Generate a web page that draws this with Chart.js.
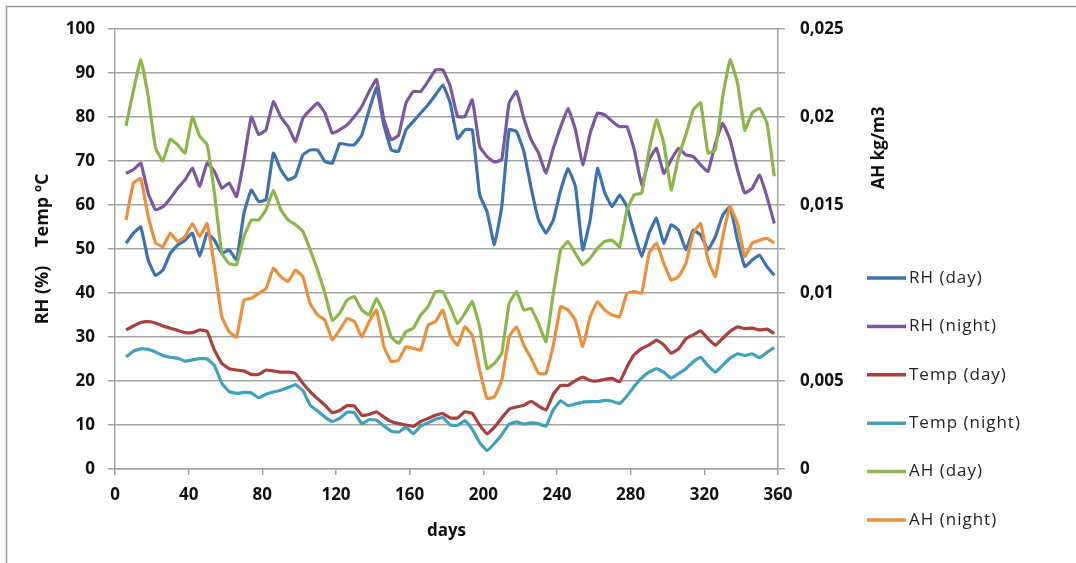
<!DOCTYPE html>
<html>
<head>
<meta charset="utf-8">
<title>RH, Temp and AH over the year</title>
<script src="https://cdn.jsdelivr.net/npm/chart.js@4/dist/chart.umd.min.js"></script>
<style>
  html, body { margin: 0; padding: 0; background: #fff; }
  canvas { display: block; }
</style>
</head>
<body>
<canvas id="climateChart" width="1076" height="563"></canvas>
<script>
// day of year for each sample
const days = [6, 10, 14, 18, 22, 26, 30, 34, 38, 42, 46, 50, 54, 58, 62, 66, 70, 74, 78, 82, 86, 90,
    94, 98, 102, 106, 110, 114, 118, 122, 126, 130, 134, 138, 142, 146, 150, 154, 158, 162, 166, 170, 174, 178,
    182, 186, 190, 194, 198, 202, 206, 210, 214, 218, 222, 226, 230, 234, 238, 242, 246, 250, 254, 258, 262, 266, 270,
    274, 278, 282, 286, 290, 294, 298, 302, 306, 310, 314, 318, 322, 326, 330, 334, 338, 342, 346, 350, 354, 358];

// RH in %
const rhDay = [51.3, 53.6, 55, 47.5, 44, 45.2, 49, 50.9, 52, 53.6, 48.3, 53.6, 52, 49, 49.8, 47.5, 58.1, 63.4, 60.8, 61.2, 71.8, 68,
    65.7, 66.5, 71.4, 72.5, 72.5, 69.9, 69.5, 74, 73.7, 73.7, 75.9, 81.6, 86.6, 78.2, 72.5, 72.2, 77.1, 79, 80.9, 82.8, 85, 87.3,
    83.2, 75.1, 77.1, 77.1, 62.3, 58.5, 51, 59.6, 77.1, 76.7, 72.2, 63.8, 56.6, 53.6, 56.6, 63.4, 68.3, 64.2, 49.8, 56.6, 68.3, 62.7, 59.6,
    62.3, 59.6, 53.6, 48.3, 53.6, 57, 51.3, 55.5, 54.3, 49.8, 54.3, 53.2, 49.8, 52.8, 57.7, 59.6, 52, 46, 47.5, 48.6, 46, 44];
const rhNight = [67.2, 68, 69.5, 62.7, 58.9, 59.6, 61.5, 63.8, 65.7, 68.4, 64.2, 69.5, 67.6, 63.8, 65, 61.9, 70.2, 80, 76, 77.1, 83.5, 80,
    77.8, 74.4, 79.7, 81.6, 83.2, 80.9, 76.3, 77.1, 78.2, 80.1, 82.4, 85.8, 88.5, 79.4, 74.8, 75.9, 83.2, 85.8, 85.8, 88.1, 90.7, 90.7,
    87, 80.1, 80.1, 83.9, 73.3, 71, 69.8, 70.3, 83.2, 85.8, 79.7, 74.8, 71.8, 67.2, 72.9, 77.8, 82, 77.1, 69.1, 76.3, 80.9, 80.5, 79,
    77.8, 77.8, 72.5, 64.6, 70.3, 72.9, 67.2, 70.3, 72.9, 71.4, 71, 69.1, 67.6, 74, 78.6, 74.8, 68, 62.7, 63.8, 66.8, 61.9, 55.8];

// temperature in ºC
const tempDay = [31.6, 32.5, 33.3, 33.5, 33.2, 32.5, 32, 31.5, 31, 31, 31.6, 31.3, 27, 24, 22.8, 22.5, 22.3, 21.5, 21.5, 22.5, 22.3, 22,
    22, 21.7, 19.5, 17.6, 16, 14.5, 12.8, 13.3, 14.4, 14.3, 12.2, 12.4, 13, 11.8, 10.8, 10.3, 10, 9.7, 10.8, 11.5, 12.2, 12.6,
    11.6, 11.6, 13, 12.6, 10, 8, 9.5, 11.6, 13.6, 14.1, 14.5, 15.4, 14.3, 13.4, 17, 19, 19, 20.1, 20.9, 20.1, 20, 20.4, 20.6,
    19.8, 23.2, 26, 27.4, 28.2, 29.3, 28.2, 26.3, 27.3, 29.6, 30.5, 31.4, 29.6, 28.1, 29.7, 31.3, 32.3, 31.9, 32, 31.6, 31.8, 30.8];
const tempNight = [25.5, 26.8, 27.3, 27.2, 26.6, 25.8, 25.4, 25.2, 24.5, 24.8, 25.1, 25, 23.5, 19.5, 17.6, 17.2, 17.4, 17.3, 16.2, 17, 17.5, 17.9,
    18.5, 19.2, 17.8, 14.5, 13.2, 11.8, 10.8, 11.5, 12.9, 12.8, 10.3, 11.2, 11.1, 9.8, 8.6, 8.4, 9.5, 8, 9.8, 10.5, 11.3, 11.7,
    10, 9.9, 11, 9, 6, 4.2, 5.8, 7.8, 10.2, 10.7, 10.2, 10.5, 10.3, 9.7, 13.5, 15.5, 14.4, 14.8, 15.2, 15.3, 15.3, 15.6, 15.4,
    14.9, 16.6, 18.8, 20.7, 22, 22.8, 22, 20.6, 21.7, 22.8, 24.4, 25.4, 23.5, 22, 23.6, 25.2, 26.2, 25.8, 26.2, 25.3, 26.5, 27.6];

// absolute humidity in kg/m3 (right axis)
const ahDay = [0.0195, 0.0215, 0.02325, 0.02118, 0.01825, 0.0175, 0.01875, 0.01843, 0.01795, 0.02, 0.0189, 0.01843, 0.01568, 0.01225, 0.01168, 0.0116, 0.0132, 0.01415, 0.01415, 0.01473, 0.01585, 0.01473,
    0.01415, 0.01388, 0.0135, 0.01245, 0.0113, 0.00998, 0.00845, 0.00885, 0.0096, 0.0098, 0.00903, 0.00875, 0.0097, 0.00885, 0.0075, 0.00713, 0.0078, 0.008, 0.00875, 0.00923, 0.01008, 0.01008,
    0.00923, 0.00825, 0.00885, 0.0095, 0.00808, 0.0057, 0.006, 0.00658, 0.0094, 0.01008, 0.00903, 0.00913, 0.00825, 0.00723, 0.00998, 0.01245, 0.01293, 0.01225, 0.0116, 0.01198, 0.01255, 0.01293, 0.013,
    0.01263, 0.01473, 0.01558, 0.01568, 0.01813, 0.01985, 0.0185, 0.01585, 0.01775, 0.019, 0.0204, 0.0208, 0.01795, 0.01813, 0.02118, 0.02325, 0.02193, 0.01925, 0.02023, 0.0205, 0.01965, 0.01663];
const ahNight = [0.01415, 0.01625, 0.0165, 0.01435, 0.01285, 0.01263, 0.0134, 0.01293, 0.0132, 0.01395, 0.0132, 0.01395, 0.0115, 0.00865, 0.0078, 0.0075, 0.0096, 0.0097, 0.00998, 0.01025, 0.0114, 0.01093,
    0.01065, 0.0113, 0.01093, 0.0094, 0.00875, 0.00845, 0.00733, 0.0079, 0.00855, 0.00838, 0.0075, 0.00838, 0.00903, 0.00695, 0.0061, 0.00618, 0.00695, 0.00685, 0.00675, 0.00818, 0.00838, 0.00903,
    0.0076, 0.00703, 0.00808, 0.0076, 0.00563, 0.004, 0.0041, 0.00505, 0.0075, 0.00808, 0.00703, 0.00628, 0.00543, 0.00543, 0.00703, 0.00923, 0.00903, 0.00845, 0.00695, 0.00865, 0.0095, 0.00903, 0.00875,
    0.00865, 0.00998, 0.01008, 0.00998, 0.01225, 0.01283, 0.01168, 0.01073, 0.01093, 0.01168, 0.0134, 0.01395, 0.01188, 0.01093, 0.0132, 0.0149, 0.01395, 0.01208, 0.01283, 0.013, 0.0131, 0.01283];

const xTicks = [0, 40, 80, 120, 160, 200, 240, 280, 320, 360];

const font = "'Open Sans', 'DejaVu Sans', sans-serif";
const gridColor = '#a3a3a3';
const textColor = '#111';

Chart.defaults.font.family = font;

function points(values) {
    return days.map((d, i) => ({ x: d, y: values[i] }));
}

const series = [
    { label: 'RH (day)', values: rhDay, color: '#3d72ad', axis: 'y' },
    { label: 'RH (night)', values: rhNight, color: '#7b579f', axis: 'y' },
    { label: 'Temp (day)', values: tempDay, color: '#a5413e', axis: 'y' },
    { label: 'Temp (night)', values: tempNight, color: '#43a0ba', axis: 'y' },
    { label: 'AH (day)', values: ahDay, color: '#8bb64c', axis: 'y1' },
    { label: 'AH (night)', values: ahNight, color: '#e8903d', axis: 'y1' },
];

// frame around the figure, legend and the right axis title
const decorations = {
    id: 'decorations',
    beforeDraw(chart) {
        const c = chart.ctx;
        c.save();
        c.fillStyle = '#fff';
        c.fillRect(0, 0, chart.width, chart.height);
        c.strokeStyle = '#9c9c9c';
        c.lineWidth = 1.5;
        c.beginPath();
        c.moveTo(6.5, chart.height);
        c.lineTo(6.5, 6.5);
        c.lineTo(chart.width, 6.5);
        c.stroke();
        c.restore();
    },
    afterDraw(chart) {
        const c = chart.ctx;
        c.save();
        // right axis title
        c.translate(879, 148);
        c.rotate(-Math.PI / 2);
        c.fillStyle = textColor;
        c.font = 'bold 17px ' + font;
        c.textAlign = 'center';
        c.textBaseline = 'middle';
        c.fillText('AH kg/m3', 0, 0);
        c.restore();

        // legend
        c.save();
        c.font = '17px ' + font;
        c.letterSpacing = '1px';
        c.textBaseline = 'middle';
        c.textAlign = 'left';
        series.forEach((s, i) => {
            const y = 278 + i * 48.4;
            c.strokeStyle = s.color;
            c.lineWidth = 3.5;
            c.beginPath();
            c.moveTo(867, y);
            c.lineTo(906, y);
            c.stroke();
            c.fillStyle = '#222';
            c.fillText(s.label, 909, y);
        });
        c.restore();
    }
};

const ctx = document.getElementById('climateChart').getContext('2d');

new Chart(ctx, {
    type: 'line',
    data: {
        datasets: series.map((s, i) => ({
            label: s.label,
            data: points(s.values),
            borderColor: s.color,
            backgroundColor: s.color,
            yAxisID: s.axis,
            order: series.length - i,
        })),
    },
    options: {
        responsive: false,
        animation: false,
        layout: { padding: { top: 29, left: 0, right: 0, bottom: 0 } },
        elements: {
            point: { radius: 0 },
            line: { borderWidth: 3.2, tension: 0.1 },
        },
        plugins: {
            legend: { display: false },
            tooltip: { enabled: false },
        },
        scales: {
            x: {
                type: 'linear',
                min: 0,
                max: 360,
                afterBuildTicks: (scale) => {
                    scale.ticks = xTicks.map(v => ({ value: v }));
                },
                ticks: {
                    padding: 10,
                    color: textColor,
                    font: { size: 17, weight: 'bold' },
                    maxRotation: 0,
                },
                grid: { drawOnChartArea: false, tickLength: 6, color: gridColor, lineWidth: 1.5 },
                border: { color: gridColor, width: 1.5 },
                title: {
                    display: true,
                    text: 'days',
                    color: textColor,
                    font: { size: 17, weight: 'bold' },
                    padding: { top: 0, bottom: 22 },
                },
                afterFit: (scale) => { scale.height = 94; },
            },
            y: {
                position: 'left',
                min: 0,
                max: 100,
                ticks: {
                    stepSize: 10,
                    padding: 13,
                    color: textColor,
                    font: { size: 17, weight: 'bold' },
                },
                grid: { color: gridColor, lineWidth: 1.5, tickLength: 7 },
                border: { color: gridColor, width: 1.5 },
                title: {
                    display: true,
                    text: 'RH (%)    Temp ºC',
                    color: textColor,
                    font: { size: 18, weight: 'bold' },
                    padding: { top: 32, bottom: 0 },
                },
                afterFit: (scale) => { scale.width = 115; },
            },
            y1: {
                position: 'right',
                min: 0,
                max: 0.025,
                ticks: {
                    stepSize: 0.0025,
                    autoSkip: false,
                    padding: 15,
                    color: textColor,
                    font: { size: 17, weight: 'bold' },
                    callback: (value, index) => index % 2 === 0
                        ? String(Number(value.toFixed(4))).replace('.', ',')
                        : '',
                },
                grid: { drawOnChartArea: false, color: gridColor, lineWidth: 1.5, tickLength: 7 },
                border: { color: gridColor, width: 1.5 },
                afterFit: (scale) => { scale.width = 298; },
            },
        },
    },
    plugins: [decorations],
});
</script>
</body>
</html>
